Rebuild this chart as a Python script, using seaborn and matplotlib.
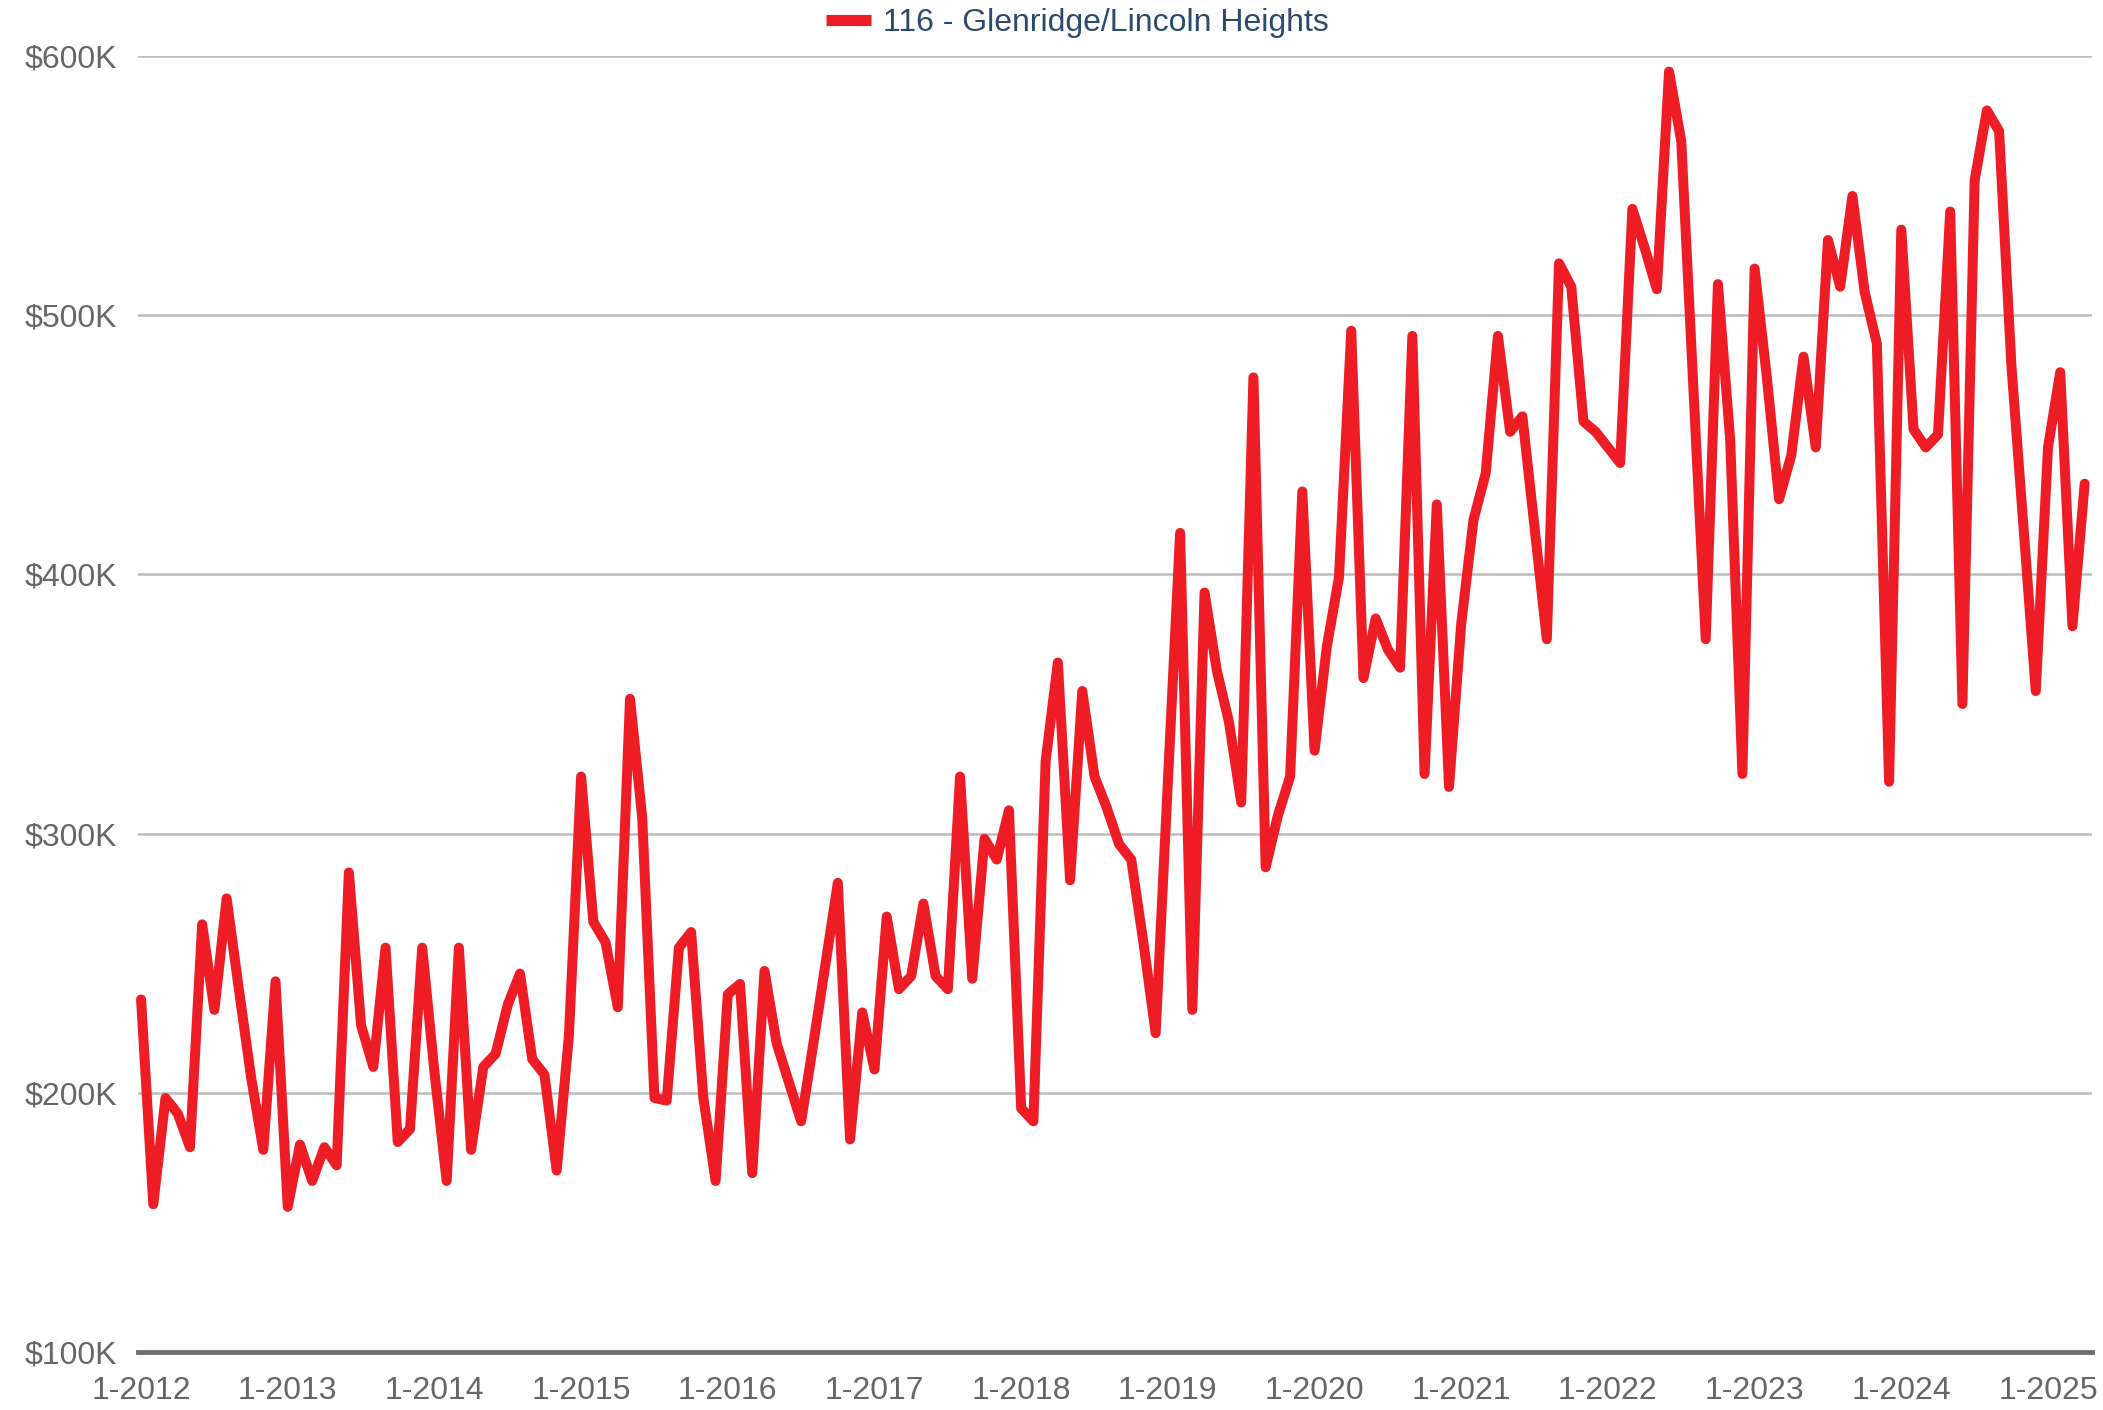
import numpy as np
import pandas as pd
import matplotlib
matplotlib.use("Agg")
import matplotlib.pyplot as plt
from matplotlib.ticker import FuncFormatter
import seaborn as sns

# ---- data (median price, thousands of $) monthly from 1-2012 to 4-2025 ----
series_name = "116 - Glenridge/Lincoln Heights"
first_year = 2012
values_2012 = [236, 157, 198, 192, 179, 265, 232, 275, 240, 206, 178, 243]
values_2013 = [156, 180, 166, 179, 172, 285, 226, 210, 256, 181, 186, 256]
values_2014 = [208, 166, 256, 178, 210, 215, 234, 246, 213, 207, 170, 222]
values_2015 = [322, 266, 258, 233, 352, 306, 198, 197, 256, 262, 198, 166]
values_2016 = [238, 242, 169, 247, 219, 204, 189, 219, 250, 281, 182, 231]
values_2017 = [209, 268, 240, 245, 273, 245, 240, 322, 244, 298, 290, 309]
values_2018 = [194, 189, 328, 366, 282, 355, 322, 310, 296, 290, 258, 223]
values_2019 = [320, 416, 232, 393, 363, 343, 312, 476, 287, 307, 322, 432]
values_2020 = [332, 372, 399, 494, 360, 383, 371, 364, 492, 323, 427, 318]
values_2021 = [381, 421, 439, 492, 455, 461, 418, 375, 520, 511, 459, 455]
values_2022 = [449, 443, 541, 526, 510, 594, 567, 471, 375, 512, 452, 323]
values_2023 = [518, 476, 429, 446, 484, 449, 529, 511, 546, 509, 489, 320]
values_2024 = [533, 456, 449, 454, 540, 350, 552, 579, 571, 481, 418, 355]
values_2025 = [449, 478, 380, 435]
tick_labels = ["1-2012", "1-2013", "1-2014", "1-2015", "1-2016", "1-2017", "1-2018",
               "1-2019", "1-2020", "1-2021", "1-2022", "1-2023", "1-2024", "1-2025"]
y_ticks = [100000, 200000, 300000, 400000, 500000, 600000]

values_k = (values_2012 + values_2013 + values_2014 + values_2015 + values_2016 +
            values_2017 + values_2018 + values_2019 + values_2020 + values_2021 +
            values_2022 + values_2023 + values_2024 + values_2025)
df = pd.DataFrame({"month": np.arange(len(values_k)),
                   "price": np.array(values_k) * 1000.0})

# ---- style ----
sns.set_style("white")
plt.rcParams["font.family"] = ["Liberation Sans", "DejaVu Sans"]

W, H = 2103, 1410
fig = plt.figure(figsize=(W / 100, H / 100), dpi=100)
ax = fig.add_axes([138 / W, 1 - 1352 / H, (2092 - 138) / W, (1352 - 56) / H])

red = "#ee1d25"
sns.lineplot(data=df, x="month", y="price", color=red, linewidth=7.2,
             label=series_name, ax=ax, legend=False)
for ln in ax.lines:
    ln.set_solid_joinstyle("round")
    ln.set_solid_capstyle("round")
    ln.set_clip_on(False)

ax.set_xlim(-0.25, 159.6)
ax.set_ylim(100000, 600000)
ax.set_yticks(y_ticks)
ax.yaxis.set_major_formatter(FuncFormatter(lambda v, p: f"${int(round(v / 1000))}K"))
ax.set_xticks(np.arange(len(tick_labels)) * 12)
ax.set_xticklabels(tick_labels)
ax.set_xlabel("")
ax.set_ylabel("")

ax.yaxis.grid(True, color="#bcbcbc", linewidth=1.8)
ax.xaxis.grid(False)
ax.set_axisbelow(True)
for s in ["left", "top", "right"]:
    ax.spines[s].set_visible(False)
ax.spines["bottom"].set_color("#6f6f6f")
ax.spines["bottom"].set_linewidth(3.5)
ax.spines["bottom"].set_zorder(1)

ax.tick_params(axis="y", length=0, pad=15, labelsize=23, labelcolor="#666666")
ax.tick_params(axis="x", length=9, width=2.2, color="#6f6f6f", pad=8,
               labelsize=23, labelcolor="#666666")

handle = plt.Line2D([], [], color=red, linewidth=8, solid_capstyle="butt")
leg = fig.legend([handle], [series_name], loc="center",
                 bbox_to_anchor=(0.5124, 1 - 23 / H), frameon=False, fontsize=23,
                 handlelength=1.4, handletextpad=0.4, borderaxespad=0)
for t in leg.get_texts():
    t.set_color("#2c4a6c")

fig.savefig("out.png", dpi=100)
